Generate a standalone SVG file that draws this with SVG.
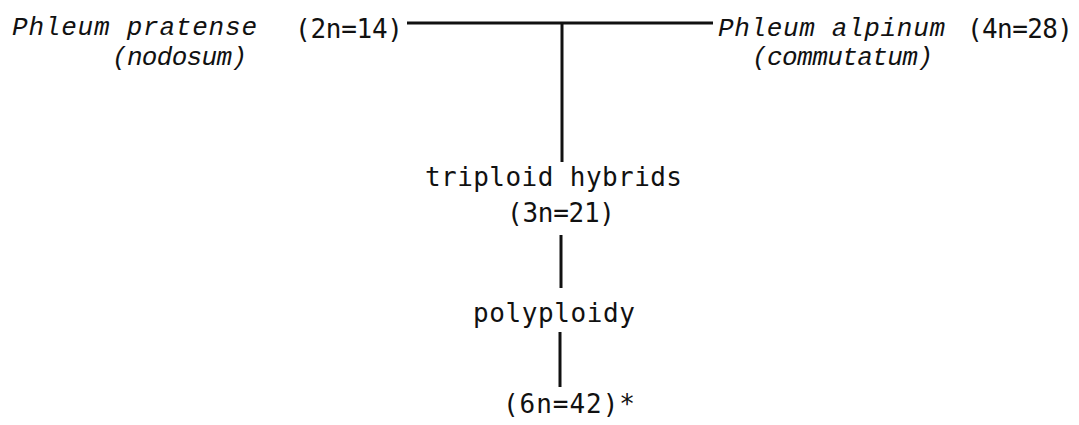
<svg xmlns="http://www.w3.org/2000/svg" width="1079" height="425" viewBox="0 0 1079 425">
<style>
.it{font-family:"Liberation Mono","DejaVu Sans Mono",monospace;font-style:italic;font-size:26px;fill:#111}
.lb{font-family:"DejaVu Sans Mono","Liberation Mono",monospace;font-size:26px;fill:#111}
.ln{stroke:#111;stroke-width:3;fill:none}
</style>
<rect width="1079" height="425" fill="#fff"/>
<g id="connectors">
<line class="ln" x1="407" y1="23" x2="713" y2="23"/>
<line class="ln" x1="562" y1="23" x2="562" y2="162"/>
<line class="ln" x1="561" y1="235" x2="561" y2="288"/>
<line class="ln" x1="560" y1="332" x2="560" y2="387"/>
</g>
<g id="phleum-pratense">
<text class="it" x="12" y="35" textLength="245" lengthAdjust="spacing">Phleum pratense</text>
<text class="it" x="112" y="65" textLength="135" lengthAdjust="spacing">(nodosum)</text>
<text class="lb" x="295" y="38" textLength="108" lengthAdjust="spacing">(2n=14)</text>
</g>
<g id="phleum-alpinum">
<text class="it" x="718" y="36" textLength="227" lengthAdjust="spacing">Phleum alpinum</text>
<text class="it" x="752" y="65" textLength="181" lengthAdjust="spacing">(commutatum)</text>
<text class="lb" x="967" y="38" textLength="106" lengthAdjust="spacing">(4n=28)</text>
</g>
<g id="triploid-hybrids">
<text class="lb" x="425" y="186" textLength="257" lengthAdjust="spacing">triploid hybrids</text>
<text class="lb" x="507" y="222" textLength="108" lengthAdjust="spacing">(3n=21)</text>
</g>
<g id="polyploidy">
<text class="lb" x="473" y="322" textLength="162" lengthAdjust="spacing">polyploidy</text>
</g>
<g id="hexaploid">
<text class="lb" x="503" y="413" textLength="132" lengthAdjust="spacing">(6n=42)*</text>
</g>
</svg>
